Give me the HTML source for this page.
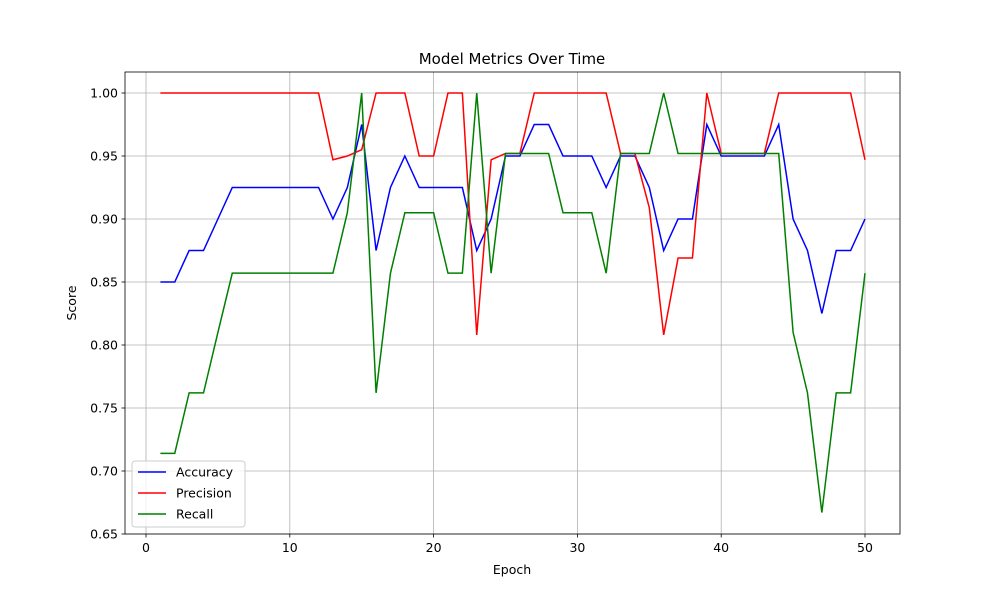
<!DOCTYPE html>
<html><head><meta charset="utf-8"><style>
body{margin:0;background:#fff;font-family:"Liberation Sans","DejaVu Sans",sans-serif}
svg text{font-family:"DejaVu Sans","Liberation Sans",sans-serif}
</style></head><body>
<svg id="chart" width="1000" height="600"></svg>
<script>
const epochs = Array.from({length:50},(_,i)=>i+1);
const accuracy = [.85,.85,.875,.875,.9,.925,.925,.925,.925,.925,.925,.925,.9,.925,.975,.875,.925,.95,.925,.925,.925,.925,.875,.9,.95,.95,.975,.975,.95,.95,.95,.925,.95,.95,.925,.875,.9,.9,.975,.95,.95,.95,.95,.975,.9,.875,.825,.875,.875,.9];
const precision = [1,1,1,1,1,1,1,1,1,1,1,1,.947,.95,.955,1,1,1,.95,.95,1,1,.808,.947,.952,.952,1,1,1,1,1,1,.952,.952,.909,.808,.869,.869,1,.952,.952,.952,.952,1,1,1,1,1,1,.947];
const recall = [.714,.714,.762,.762,.81,.857,.857,.857,.857,.857,.857,.857,.857,.905,1,.762,.857,.905,.905,.905,.857,.857,1,.857,.952,.952,.952,.952,.905,.905,.905,.857,.952,.952,.952,1,.952,.952,.952,.952,.952,.952,.952,.952,.81,.762,.667,.762,.762,.857];
const xTicks = [0,10,20,30,40,50];
const yTicks = [0.65,0.70,0.75,0.80,0.85,0.90,0.95,1.00];
const seriesNames = ["Accuracy","Precision","Recall"];
const seriesColors = ["#0000ff","#ff0000","#008000"];

const L=125,R=900,T=72,B=534;
const xs = v => 146 + v*(865-146)/50;
const ys = v => 534 - (v-0.65)*(534-93)/0.35;
const NS="http://www.w3.org/2000/svg";
const svg=document.getElementById('chart');
function mk(tag,attrs,parent){const e=document.createElementNS(NS,tag);for(const k in attrs)e.setAttribute(k,attrs[k]);(parent||svg).appendChild(e);return e;}

const grid=mk('g',{});


xTicks.forEach(t=>{const l=mk('line',{x1:xs(t),x2:xs(t),y1:T,y2:B,stroke:'#b0b0b0','stroke-width':0.8},grid);


mk('line',{x1:xs(t),x2:xs(t),y1:B,y2:B+3.5,stroke:'#000','stroke-width':0.8});
const tx=mk('text',{x:xs(t),y:B+18,'text-anchor':'middle','font-size':12.5});tx.textContent=t;

});
yTicks.forEach(t=>{const l=mk('line',{x1:L,x2:R,y1:ys(t),y2:ys(t),stroke:'#b0b0b0','stroke-width':0.8},grid);


mk('line',{x1:L-3.5,x2:L,y1:ys(t),y2:ys(t),stroke:'#000','stroke-width':0.8});
const tx=mk('text',{x:L-7,y:ys(t)+4.5,'text-anchor':'end','font-size':12.5});tx.textContent=t.toFixed(2);

});

[accuracy,precision,recall].forEach((d,i)=>{
const p=mk('polyline',{points:d.map((v,j)=>xs(epochs[j])+','+ys(v)).join(' '),fill:'none',stroke:seriesColors[i],'stroke-width':1.5});

});

const frame=mk('rect',{x:L,y:T,width:R-L,height:B-T,fill:'none',stroke:'#000','stroke-width':0.8});



const title=mk('text',{x:512,y:64,'text-anchor':'middle','font-size':15});title.textContent='Model Metrics Over Time';


const xl=mk('text',{x:512,y:574,'text-anchor':'middle','font-size':12.5});xl.textContent='Epoch';


const yl=mk('text',{x:0,y:0,'text-anchor':'middle','font-size':12.5,transform:'translate(76,303) rotate(-90)'});yl.textContent='Score';



const lg=mk('g',{});


mk('rect',{x:132,y:461,width:113,height:66,rx:3,fill:'#fff','fill-opacity':0.8,stroke:'#cccccc'},lg);
seriesNames.forEach((n,i)=>{const y=472+i*21;
mk('line',{x1:138,x2:166,y1:y,y2:y,stroke:seriesColors[i],'stroke-width':1.5},lg);
const t=mk('text',{x:176,y:y+4.5,'font-size':12.5},lg);t.textContent=n;

});
</script>
</body></html>
